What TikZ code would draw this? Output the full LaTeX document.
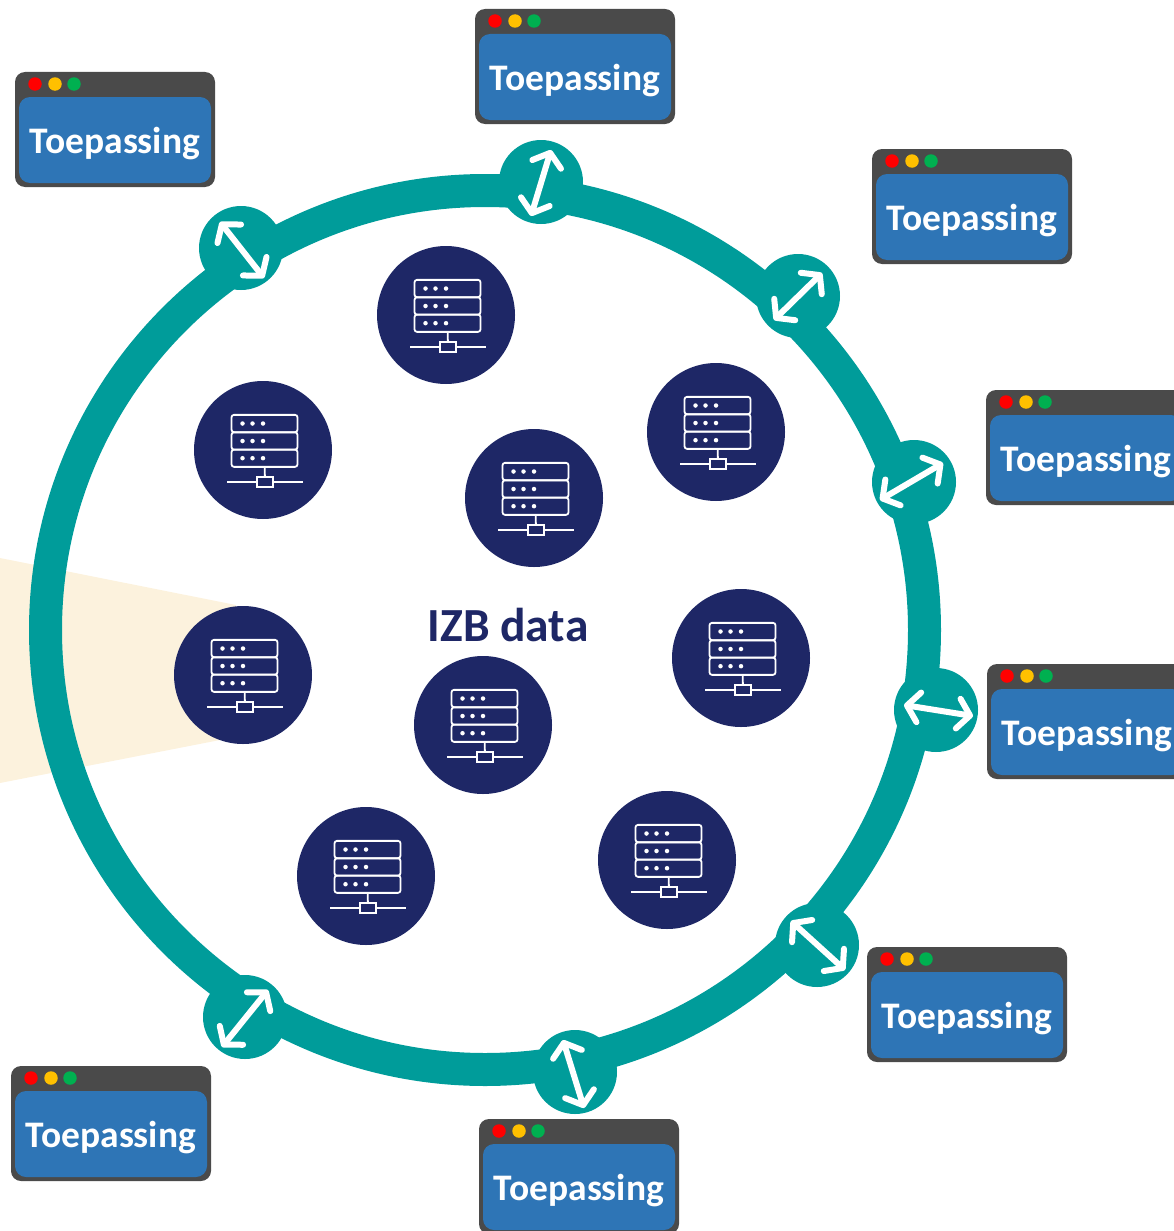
\documentclass[tikz,border=0pt]{standalone}
\usepackage{fontspec}
\setmainfont{Carlito}
\usetikzlibrary{positioning, shapes, arrows.meta, calc}

\definecolor{ringteal}{HTML}{009C9A}
\definecolor{servernavy}{HTML}{1E2766}
\definecolor{framegrey}{HTML}{4A4A4A}
\definecolor{bodyblue}{HTML}{2E75B6}
\definecolor{beamcream}{HTML}{FCF2DD}
\definecolor{dotamber}{HTML}{FFC000}
\definecolor{dotgreen}{HTML}{00B050}

\tikzset{
    appframe/.style={fill=framegrey, rounded corners=10pt, inner sep=0, outer sep=0,
        minimum width=200pt, minimum height=115pt, anchor=north west},
    appbody/.style={fill=bodyblue, rounded corners=11pt, inner sep=0, outer sep=0,
        minimum width=192pt, minimum height=86pt, text=white, text depth=0pt,
        font=\fontsize{37.5}{37.5}\selectfont\bfseries},
    appdot/.style={circle, inner sep=0, outer sep=0, minimum size=13.5pt},
    hubdisc/.style={circle, fill=ringteal, inner sep=0, outer sep=0, minimum size=84pt},
    duplex/.style={white, line width=6pt, line cap=round,
        {Straight Barb[round,length=12pt,width=30pt]}-{Straight Barb[round,length=12pt,width=30pt]}},
    serverdisc/.style={circle, fill=servernavy, inner sep=0, outer sep=0, minimum size=138pt},
    rackrow/.style={draw=white, line width=1.8pt, rounded corners=2.5pt, inner sep=0, outer sep=0,
        minimum width=66pt, minimum height=17.3pt},
    rackled/.style={circle, fill=white, inner sep=0, outer sep=0, minimum size=4.5pt},
    rackport/.style={draw=white, line width=1.8pt, inner sep=0, outer sep=0,
        minimum width=16pt, minimum height=10pt},
    rackwire/.style={white, line width=1.8pt}
}

\newcommand{\appwindow}[2]{
    \node[appframe] (#1) at (#2) {};
    \node[appbody] (#1body) at ($(#1.north west) + (100, 68)$) {Toepassing};
    \node[appdot, fill=red] (#1red) at ($(#1.north west) + (20, 12)$) {};
    \node[appdot, fill=dotamber] (#1amber) at ($(#1.north west) + (40, 12)$) {};
    \node[appdot, fill=dotgreen] (#1green) at ($(#1.north west) + (59, 12)$) {};
}

\newcommand{\hubarrow}[4]{
    \node[hubdisc] (#1) at (#2) {};
    \coordinate (#1a) at (#3);
    \coordinate (#1b) at (#4);
    \draw[duplex] (#1a) -- (#1b);
}

\newcommand{\serverunit}[2]{
    \node[serverdisc] (#1) at (#2) {};
    \node[rackrow] (#1top) at ($(#1) + (1.5, -26.5)$) {};
    \node[rackrow] (#1mid) at ($(#1) + (1.5, -9)$) {};
    \node[rackrow] (#1low) at ($(#1) + (1.5, 8.2)$) {};
    \node[rackled] (#1ta) at ($(#1top) + (-22, 0)$) {};
    \node[rackled] (#1tb) at ($(#1top) + (-12, 0)$) {};
    \node[rackled] (#1tc) at ($(#1top) + (-1.5, 0)$) {};
    \node[rackled] (#1ma) at ($(#1mid) + (-22, 0)$) {};
    \node[rackled] (#1mb) at ($(#1mid) + (-12, 0)$) {};
    \node[rackled] (#1mc) at ($(#1mid) + (-1.5, 0)$) {};
    \node[rackled] (#1la) at ($(#1low) + (-22, 0)$) {};
    \node[rackled] (#1lb) at ($(#1low) + (-12, 0)$) {};
    \node[rackled] (#1lc) at ($(#1low) + (-1.5, 0)$) {};
    \node[rackport] (#1port) at ($(#1) + (2, 32)$) {};
    \coordinate (#1w) at ($(#1) + (-36, 32)$);
    \coordinate (#1e) at ($(#1) + (40, 32)$);
    \draw[rackwire] (#1low) -- (#1port);
    \draw[rackwire] (#1w) -- (#1port);
    \draw[rackwire] (#1port) -- (#1e);
}

\begin{document}
\begin{tikzpicture}[x=1pt, y=-1pt]
\useasboundingbox (0,0) rectangle (1173,1231);

\fill[beamcream] (0,558) -- (236,605) -- (220,740) -- (0,783) -- cycle;

\node[circle, draw=ringteal, line width=33pt, inner sep=0, outer sep=0,
        minimum size=879pt] (ring) at (485,630) {};

\hubarrow{hubA}{241,248}{220,222}{264,278}
\hubarrow{hubB}{541,182}{551,150}{531,216}
\hubarrow{hubC}{798,296}{822,273}{774,320}
\hubarrow{hubD}{914,482}{943,463}{880,500}
\hubarrow{hubE}{936,710}{904,705}{973,716}
\hubarrow{hubF}{817,945}{791,921}{845,970}
\hubarrow{hubG}{575,1072}{563,1040}{584,1108}
\hubarrow{hubH}{245,1017}{268,990}{222,1047}

\appwindow{appA}{15,72}
\appwindow{appB}{475,9}
\appwindow{appC}{872,149}
\appwindow{appD}{986,390}
\appwindow{appE}{987,664}
\appwindow{appF}{867,947}
\appwindow{appG}{479,1119}
\appwindow{appH}{11,1066}

\serverunit{srvA}{446,315}
\serverunit{srvB}{263,450}
\serverunit{srvC}{716,432}
\serverunit{srvD}{534,498}
\serverunit{srvE}{741,658}
\serverunit{srvF}{243,675}
\serverunit{srvG}{483,725}
\serverunit{srvH}{667,860}
\serverunit{srvI}{366,876}

\node[text=servernavy, inner sep=0,
        font=\fontsize{47.5}{47.5}\selectfont\bfseries] (title) at (508,625) {IZB data};

\end{tikzpicture}
\end{document}
